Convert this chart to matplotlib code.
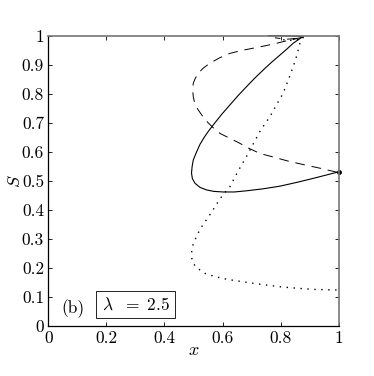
import matplotlib
matplotlib.use("Agg")
import matplotlib.pyplot as plt

plt.rcParams["font.family"] = "serif"
plt.rcParams["font.serif"] = ["cmr10"]
plt.rcParams["mathtext.fontset"] = "cm"
plt.rcParams["axes.formatter.use_mathtext"] = True

# solid branch
solid_x = [0.994, 0.955, 0.912, 0.855, 0.797, 0.740, 0.682, 0.640, 0.602, 0.570, 0.545, 0.522,
           0.505, 0.496, 0.493, 0.495, 0.499, 0.510, 0.522, 0.537, 0.553, 0.570, 0.597, 0.625,
           0.652, 0.682, 0.710, 0.740, 0.768, 0.797, 0.820, 0.843, 0.860, 0.872, 0.876,
           0.86, 0.83, 0.80, 0.775, 0.757]
solid_y = [0.529, 0.519, 0.508, 0.494, 0.481, 0.472, 0.465, 0.461, 0.461, 0.463, 0.468, 0.477,
           0.491, 0.507, 0.526, 0.548, 0.571, 0.598, 0.625, 0.650, 0.673, 0.695, 0.729, 0.761,
           0.792, 0.824, 0.853, 0.882, 0.908, 0.933, 0.953, 0.974, 0.986, 0.994, 0.996,
           0.998, 0.999, 1.0, 1.0, 1.0]

# dashed branch
dash_x = [0.994, 0.935, 0.880, 0.831, 0.780, 0.728, 0.692, 0.659, 0.625, 0.591, 0.565, 0.540,
          0.516, 0.504, 0.499, 0.497, 0.499, 0.506, 0.516, 0.533, 0.556, 0.590, 0.625, 0.665,
          0.705, 0.745, 0.786, 0.830, 0.868, 0.876, 0.85, 0.82, 0.80, 0.78]
dash_y = [0.529, 0.543, 0.555, 0.566, 0.580, 0.594, 0.611, 0.629, 0.646, 0.663, 0.685, 0.710,
          0.744, 0.767, 0.790, 0.813, 0.836, 0.853, 0.870, 0.888, 0.905, 0.924, 0.939, 0.949,
          0.957, 0.965, 0.974, 0.985, 0.993, 0.996, 0.990, 0.988, 0.990, 0.993]

# dotted branch
dot_x = [0.992, 0.950, 0.912, 0.855, 0.797, 0.750, 0.705, 0.665, 0.625, 0.595, 0.568, 0.540,
         0.522, 0.508, 0.499, 0.494, 0.493, 0.496, 0.505, 0.515, 0.528, 0.542, 0.556, 0.570,
         0.585, 0.600, 0.625, 0.652, 0.682, 0.705, 0.728, 0.745, 0.763, 0.785, 0.808, 0.826,
         0.843, 0.856, 0.866, 0.874, 0.878, 0.85, 0.82, 0.79]
dot_y = [0.123, 0.124, 0.125, 0.129, 0.134, 0.140, 0.146, 0.152, 0.158, 0.164, 0.171, 0.180,
         0.192, 0.203, 0.215, 0.232, 0.250, 0.273, 0.296, 0.318, 0.341, 0.362, 0.382, 0.404,
         0.428, 0.450, 0.479, 0.531, 0.583, 0.626, 0.669, 0.695, 0.721, 0.761, 0.801, 0.847,
         0.893, 0.934, 0.974, 0.990, 0.995, 0.983, 0.985, 0.988]

ticks_x = [0, 0.2, 0.4, 0.6, 0.8, 1]
ticks_y = [0, 0.1, 0.2, 0.3, 0.4, 0.5, 0.6, 0.7, 0.8, 0.9, 1]

fig = plt.figure(figsize=(3.74, 3.76), dpi=100)
ax = fig.add_axes([0.129, 0.134, 0.777, 0.771])

ax.plot(solid_x, solid_y, color="black", lw=0.8, ls="-", clip_on=False)
ax.plot(dash_x, dash_y, color="black", lw=0.7, ls=(0, (10, 7)), clip_on=False)
ax.plot(dot_x, dot_y, color="black", lw=1.0, ls=(0, (1, 4)), clip_on=False)
ax.plot([1.0], [0.529], marker="o", ms=2.5, color="black", clip_on=False)

ax.set_xlim(0, 1)
ax.set_ylim(0, 1)
ax.set_xticks(ticks_x)
ax.set_xticklabels([f"{t:g}" for t in ticks_x])
ax.set_yticks(ticks_y)
ax.set_yticklabels([f"{t:g}" for t in ticks_y])
ax.tick_params(direction="in", top=True, right=True, length=3, width=0.6, labelsize=12.5)
ax.tick_params(axis="y", pad=3)
ax.tick_params(axis="x", pad=4)

for side in ["top", "right"]:
    ax.spines[side].set_color("#777777")
    ax.spines[side].set_linewidth(1.2)
for side in ["left", "bottom"]:
    ax.spines[side].set_color("black")
    ax.spines[side].set_linewidth(0.9)

ax.set_xlabel(r"$x$", fontsize=13, labelpad=-3)
ax.set_ylabel(r"$S$", fontsize=13, labelpad=-1)

ax.text(0.084, 0.060, "(b)", fontsize=12.5, ha="center", va="center")
ax.text(0.301, 0.072, r"$\lambda\ \ =\ 2.5$", fontsize=12.5, ha="center", va="center",
        bbox=dict(boxstyle="square,pad=0.3", fc="white", ec="black", lw=0.6))

fig.savefig("out.png", dpi=100)
